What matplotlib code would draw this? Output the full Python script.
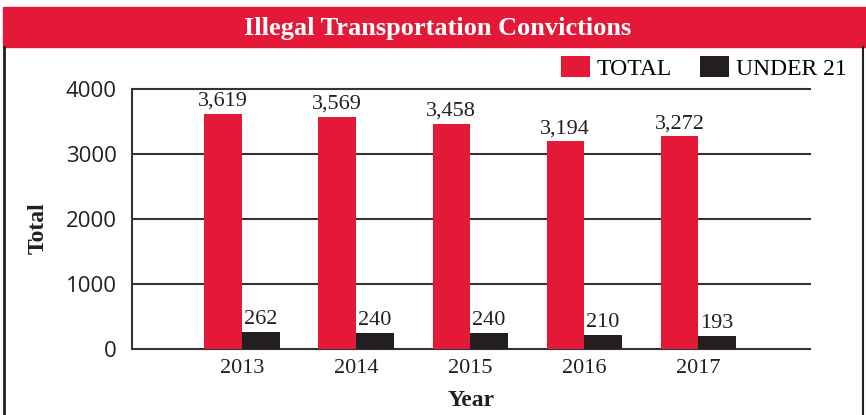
import numpy as np
import matplotlib.pyplot as plt
from matplotlib.patches import Rectangle
from matplotlib.lines import Line2D

# Data
years = ['2013', '2014', '2015', '2016', '2017']
total = [3619, 3569, 3458, 3194, 3272]
under21 = [262, 240, 240, 210, 193]

red = '#E31937'
black = '#231F20'
serif = 'Liberation Serif'

fig = plt.figure(figsize=(8.66, 4.15), dpi=100)

# title band and frame
fig.patches.append(Rectangle((3 / 866, 1 - 47 / 415), 863 / 866, 40 / 415,
                             transform=fig.transFigure, color=red, zorder=0))
fig.lines.append(Line2D([4 / 866, 4 / 866], [0, 1 - 47 / 415],
                        transform=fig.transFigure, color=black, lw=2))
fig.lines.append(Line2D([863 / 866, 863 / 866], [0, 1 - 47 / 415],
                        transform=fig.transFigure, color=black, lw=1.5))
fig.text(0.505, 1 - 28 / 415, 'Illegal Transportation Convictions', color='white',
         family=serif, weight='bold', fontsize=19, ha='center', va='center')

ax = fig.add_axes([132 / 866, 1 - 349 / 415, 678 / 866, 260 / 415])
x = np.arange(len(years))
w = 0.33
b1 = ax.bar(x - w / 2, total, w, color=red, label='TOTAL', zorder=3)
b2 = ax.bar(x + w / 2, under21, w, color=black, label='UNDER 21', zorder=3)

for rect, v in zip(b1, total):
    ax.text(rect.get_x() + rect.get_width() / 2, v + 50, f'{v:,}', ha='center',
            va='bottom', family=serif, fontsize=16, color=black)
for rect, v in zip(b2, under21):
    ax.text(rect.get_x() + rect.get_width() / 2, v + 50, f'{v:,}', ha='center',
            va='bottom', family=serif, fontsize=16, color=black)

ax.set_xlim(-0.965, 4.98)
ax.set_ylim(0, 4000)
ax.set_yticks([0, 1000, 2000, 3000, 4000])
ax.set_xticks(x)
ax.set_xticklabels(years, family=serif, fontsize=16, color=black)
for lab in ax.get_yticklabels():
    lab.set_family('Open Sans')
    lab.set_fontsize(16)
    lab.set_color(black)
ax.tick_params(axis='both', length=0)
ax.tick_params(axis='y', pad=11)
ax.tick_params(axis='x', pad=7)

ax.yaxis.grid(True, color='#333333', lw=1.5)
ax.set_axisbelow(True)
for line in ax.get_ygridlines():
    line.set_clip_on(False)
for s in ['top', 'right', 'bottom']:
    ax.spines[s].set_visible(False)
ax.spines['left'].set_color('#333333')
ax.spines['left'].set_linewidth(1.5)

ax.set_xlabel('Year', family=serif, weight='bold', fontsize=17, color=black, labelpad=9)
fig.text(38 / 866, 1 - 228 / 415, 'Total', rotation=90, family=serif, weight='bold',
         fontsize=17, color=black, ha='center', va='center')

ax.legend(loc='lower right', bbox_to_anchor=(1.068, 1.0), ncol=2, frameon=False,
          prop={'family': serif, 'size': 17}, handlelength=1.2, handleheight=1.0,
          handletextpad=0.3, columnspacing=1.2, borderaxespad=0)

fig.savefig('out.png', dpi=100)
